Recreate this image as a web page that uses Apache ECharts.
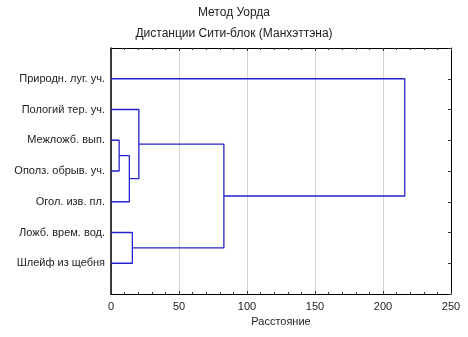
<!DOCTYPE html>
<html>
<head>
<meta charset="utf-8">
<script src="https://cdn.jsdelivr.net/npm/echarts@6/dist/echarts.min.js"></script>
<style>
  html, body { margin: 0; padding: 0; background: #fff; }
  #chart { width: 468px; height: 337px; }
</style>
</head>
<body>
<div id="chart"></div>
<script>
// leaves, top to bottom
const leaves = [
  "Природн. луг. уч.",
  "Пологий тер. уч.",
  "Межложб. вып.",
  "Ополз. обрыв. уч.",
  "Огол. изв. пл.",
  "Ложб. врем. вод.",
  "Шлейф из щебня"
];
// merges: [childA, childB, distance]; new node ids start at leaves.length
const merges = [
  [2, 3, 6],
  [7, 4, 13.5],
  [1, 8, 20.5],
  [5, 6, 15.7],
  [9, 10, 83],
  [0, 11, 216]
];
const xTicks = [0, 50, 100, 150, 200, 250];

const FONT = "Liberation Sans, Arial, sans-serif";
const LINE = "#2424cc";

// position (1-based row) and height of every node
const nodeY = leaves.map((_, i) => i + 1);
const nodeH = leaves.map(() => 0);
const series = [];
merges.forEach(([a, b, d]) => {
  series.push({
    type: "line",
    showSymbol: false,
    silent: true,
    lineStyle: { color: LINE, width: 1.3 },
    data: [[nodeH[a], nodeY[a]], [d, nodeY[a]], [d, nodeY[b]], [nodeH[b], nodeY[b]]]
  });
  nodeY.push((nodeY[a] + nodeY[b]) / 2);
  nodeH.push(d);
});

const chart = echarts.init(document.getElementById("chart"), null, { renderer: "canvas" });
const frame = { show: true, onZero: false, lineStyle: { color: "#000", width: 1 } };
const tick = { show: true, inside: true, length: 3, lineStyle: { color: "#333" } };
const minor = { show: true, splitNumber: 5, length: 2, lineStyle: { color: "#333" } };
chart.setOption({
  animation: false,
  title: [
    { text: "Метод Уорда", left: "center", top: 2,
      textStyle: { fontFamily: FONT, fontSize: 12, fontWeight: "normal", color: "#222" } },
    { text: "Дистанции Сити-блок (Манхэттэна)", left: "center", top: 23,
      textStyle: { fontFamily: FONT, fontSize: 12, fontWeight: "normal", color: "#222" } }
  ],
  grid: { left: 111, right: 17, top: 48, bottom: 43 },
  xAxis: [
    {
      type: "value", position: "bottom", min: xTicks[0], max: xTicks[xTicks.length - 1], interval: 50,
      name: "Расстояние", nameLocation: "middle", nameGap: 21,
      nameTextStyle: { fontFamily: FONT, fontSize: 11, color: "#222" },
      axisLine: frame,
      axisTick: tick,
      minorTick: minor,
      axisLabel: { fontFamily: FONT, fontSize: 11, color: "#222", margin: 7 },
      splitLine: { show: true, lineStyle: { color: "#d4d6dc", width: 1 } }
    },
    {
      type: "value", position: "top", min: 0, max: 250, interval: 50,
      axisLine: frame,
      axisTick: tick,
      minorTick: minor,
      axisLabel: { show: false },
      splitLine: { show: false }
    }
  ],
  yAxis: [
    {
      type: "value", position: "left", min: 0, max: leaves.length + 1, interval: 1, inverse: true,
      axisLine: { show: true, onZero: false, lineStyle: { color: "#000", width: 1.5 } },
      axisTick: { show: false },
      axisLabel: {
        fontFamily: FONT, fontSize: 11, color: "#222", margin: 6,
        formatter: v => leaves[v - 1] || ""
      },
      splitLine: { show: false }
    },
    {
      type: "value", position: "right", min: 0, max: leaves.length + 1, interval: 1, inverse: true,
      axisLine: frame,
      axisTick: tick,
      axisLabel: { show: false },
      splitLine: { show: false }
    }
  ],
  series: series
});
</script>
</body>
</html>
